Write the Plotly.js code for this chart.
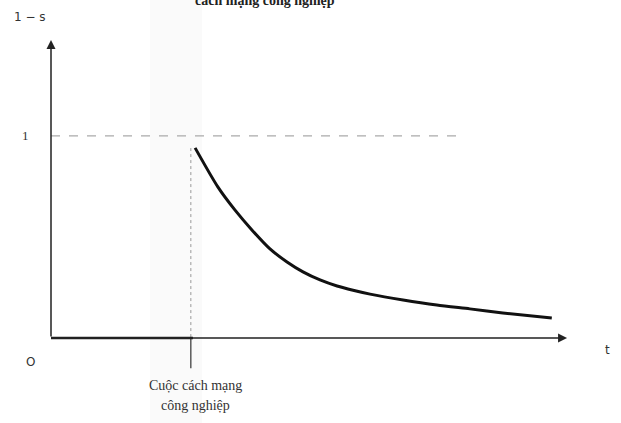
<!DOCTYPE html>
<html>
<head>
<meta charset="utf-8">
<script src="https://cdn.plot.ly/plotly-3.0.1.min.js"></script>
<style>html,body{margin:0;padding:0;background:#fff;}#chart{width:621px;height:423px;}</style>
</head>
<body>
<div id="chart"></div>
<script>
// time (t), revolution happens at t = 4
const revolutionT = 4;
const curveT = [4.06, 4.70, 5.18, 5.66, 6.17, 6.65, 7.10, 7.58, 8.06, 8.51, 8.99, 9.92, 10.87, 11.80, 12.73, 14.11];
const curveY = [0.941, 0.748, 0.634, 0.535, 0.441, 0.376, 0.327, 0.287, 0.257, 0.236, 0.217, 0.188, 0.163, 0.144, 0.124, 0.099];
const revLabel = ["Cuộc cách mạng", "công nghiệp"];
const titleText = "cách mạng công nghiệp";
const yAxisLabel = "1 − s";
const xAxisLabel = "t";
const originLabel = "O";
const oneLabel = "1";

const serif = "Liberation Serif, DejaVu Serif, serif";
const sans = "DejaVu Sans, Liberation Sans, sans-serif";

const traces = [
  {x: curveT, y: curveY, mode: 'lines', line: {color: '#111', width: 3, shape: 'spline', smoothing: 0.7}, hoverinfo: 'skip'}
];

const shapes = [
  // faint scan band
  {type: 'rect', xref: 'x', yref: 'paper', x0: 2.79, x1: 4.25, y0: 0, y1: 1, fillcolor: '#fafafa', line: {width: 0}, layer: 'below'},
  // level 1 dashed line
  {type: 'line', x0: 0, x1: 11.66, y0: 1, y1: 1, line: {color: '#aaa', width: 1.2, dash: 'dash'}},
  // vertical dashed line at revolution
  {type: 'line', x0: revolutionT - 0.06, x1: revolutionT - 0.06, y0: 0.94, y1: 0, line: {color: '#999', width: 1, dash: 'dot'}},
  // tick below axis
  {type: 'line', x0: revolutionT - 0.06, x1: revolutionT - 0.06, y0: 0, y1: -0.15, line: {color: '#333', width: 1.2}},
  // thicker part of x axis before revolution
  {type: 'line', x0: 0, x1: revolutionT, y0: 0, y1: 0, line: {color: '#222', width: 2.5}}
];

const annotations = [
  // y axis arrow
  {x: 0, y: 1.475, ax: 0, ay: 0, xref: 'x', yref: 'y', axref: 'x', ayref: 'y', showarrow: true, arrowhead: 2, arrowsize: 1.2, arrowwidth: 1.5, arrowcolor: '#222', text: ''},
  // x axis arrow
  {x: 14.54, y: 0, ax: 0, ay: 0, xref: 'x', yref: 'y', axref: 'x', ayref: 'y', showarrow: true, arrowhead: 2, arrowsize: 1.2, arrowwidth: 1.5, arrowcolor: '#222', text: ''},
  {x: -0.59, y: 1.589, xref: 'x', yref: 'y', text: yAxisLabel, showarrow: false, font: {family: sans, size: 12, color: '#333'}},
  {x: -0.73, y: 1.0, xref: 'x', yref: 'y', text: oneLabel, showarrow: false, font: {family: serif, size: 13, color: '#333'}},
  {x: -0.59, y: -0.119, xref: 'x', yref: 'y', text: originLabel, showarrow: false, font: {family: sans, size: 12, color: '#333'}},
  {x: 15.69, y: -0.059, xref: 'x', yref: 'y', text: xAxisLabel, showarrow: false, font: {family: sans, size: 12, color: '#333'}},
  {x: revolutionT + 0.06, y: -0.233, xref: 'x', yref: 'y', text: revLabel[0], showarrow: false, font: {family: serif, size: 14, color: '#333'}},
  {x: revolutionT + 0.06, y: -0.332, xref: 'x', yref: 'y', text: revLabel[1], showarrow: false, font: {family: serif, size: 14, color: '#333'}},
  {x: 265/621, y: 1, xref: 'paper', yref: 'paper', xanchor: 'center', yanchor: 'middle', yshift: 0, text: '<b>' + titleText + '</b>', showarrow: false, font: {family: serif, size: 14, color: '#222'}}
];

const layout = {
  width: 621, height: 423,
  margin: {l: 0, r: 0, t: 0, b: 0},
  paper_bgcolor: '#fff', plot_bgcolor: '#fff',
  showlegend: false,
  xaxis: {range: [-1.437, 16.06], visible: false, fixedrange: true},
  yaxis: {range: [-0.421, 1.673], visible: false, fixedrange: true},
  shapes: shapes,
  annotations: annotations
};

Plotly.newPlot('chart', traces, layout, {staticPlot: true});
</script>
</body>
</html>
